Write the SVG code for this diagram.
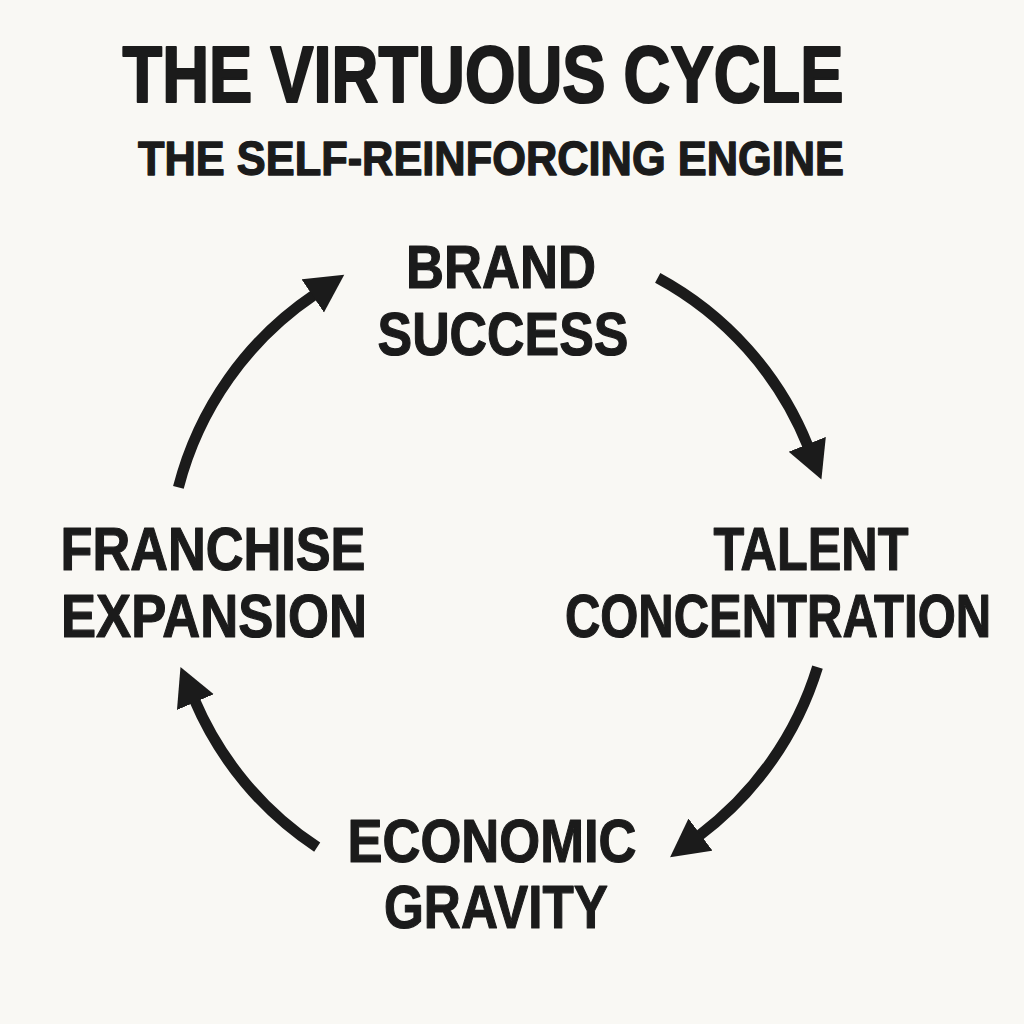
<svg xmlns="http://www.w3.org/2000/svg" width="1024" height="1024" viewBox="0 0 1024 1024">
  <style>
    .t { font-family: "Liberation Sans", Arial, sans-serif; font-weight: bold; fill: #1b1b1b; stroke: #1b1b1b; stroke-linejoin: round; text-anchor: middle; }
    .title { stroke-width: 2.2; }
    .sub { stroke-width: 1.4; }
    .node { font-size: 62px; stroke-width: 1.2; }
    .arc { fill: none; stroke: #1b1b1b; stroke-width: 11; stroke-linecap: butt; }
  </style>
  <defs>
    <marker id="ah" markerUnits="userSpaceOnUse" markerWidth="42" markerHeight="42" refX="2" refY="20" orient="auto">
      <path d="M0,0 L38,20 L0,40 z" fill="#1b1b1b"/>
    </marker>
  </defs>
  <rect width="1024" height="1024" fill="#f9f8f4"/>
  <g id="title">
    <text class="t title" x="483" y="102" font-size="79" textLength="721" lengthAdjust="spacingAndGlyphs">THE VIRTUOUS CYCLE</text>
    <text class="t sub" x="491" y="175" font-size="49" textLength="706" lengthAdjust="spacingAndGlyphs">THE SELF-REINFORCING ENGINE</text>
  </g>
  <g id="connectors">
    <path class="arc" d="M178.4,487.4 A332,332 0 0 1 314.4,294.8" marker-end="url(#ah)"/>
    <path class="arc" d="M657.7,277.8 A332,332 0 0 1 808,446.2" marker-end="url(#ah)"/>
    <path class="arc" d="M817.5,667.1 A332,332 0 0 1 698.9,835.8" marker-end="url(#ah)"/>
    <path class="arc" d="M317.2,847.2 A332,332 0 0 1 194.6,700.2" marker-end="url(#ah)"/>
  </g>
  <g id="node-brand">
    <text class="t node" x="501" y="288" textLength="190" lengthAdjust="spacingAndGlyphs">BRAND</text>
    <text class="t node" x="503" y="355" textLength="251" lengthAdjust="spacingAndGlyphs">SUCCESS</text>
  </g>
  <g id="node-talent">
    <text class="t node" x="811" y="570" textLength="195" lengthAdjust="spacingAndGlyphs">TALENT</text>
    <text class="t node" transform="translate(778,637) scale(0.79,1)" x="0" y="0">CONCENTRATION</text>
  </g>
  <g id="node-economic">
    <text class="t node" x="492" y="862" textLength="289" lengthAdjust="spacingAndGlyphs">ECONOMIC</text>
    <text class="t node" x="496" y="928" textLength="224" lengthAdjust="spacingAndGlyphs">GRAVITY</text>
  </g>
  <g id="node-franchise">
    <text class="t node" x="213" y="570" textLength="305" lengthAdjust="spacingAndGlyphs">FRANCHISE</text>
    <text class="t node" x="214" y="637" textLength="306" lengthAdjust="spacingAndGlyphs">EXPANSION</text>
  </g>
</svg>
